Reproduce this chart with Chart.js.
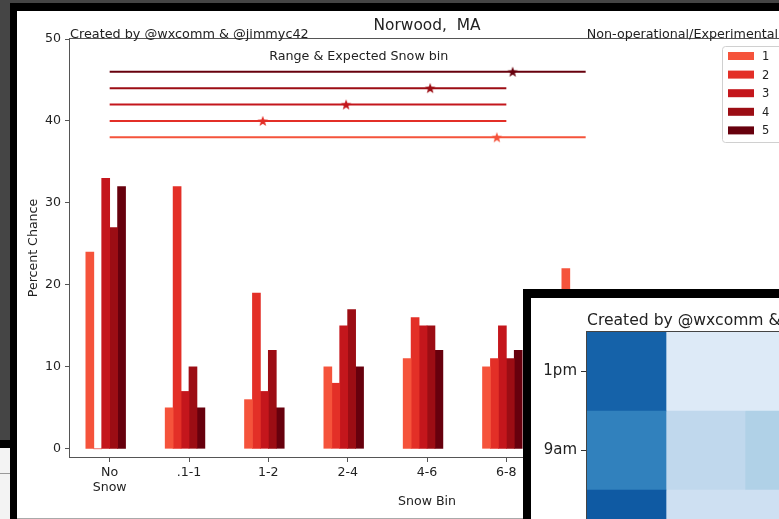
<!DOCTYPE html>
<html>
<head>
<meta charset="utf-8">
<script src="https://cdn.jsdelivr.net/npm/chart.js@4.4.1/dist/chart.umd.min.js"></script>
<style>
html, body { margin: 0; padding: 0; width: 779px; height: 519px; overflow: hidden; background: #454545; }
div, canvas { position: absolute; }
#frame { left: 10px; top: 3px; width: 820px; height: 530px; background: #000; }
#panel { left: 17px; top: 11px; width: 820px; height: 507px; background: #fff; border-bottom: 1px solid #aaa; }
#edgeBlack { left: 0; top: 440px; width: 10px; height: 8px; background: #000; }
#edgeLight { left: 0; top: 448px; width: 10px; height: 80px; background: #f3f3f3; }
#edgeLine { left: 0; top: 473px; width: 10px; height: 1px; background: #999; }
#mainChart { left: 17px; top: 11px; }
#insetFrame { left: 523px; top: 289px; width: 320px; height: 320px; background: #000; }
#insetPanel { left: 531px; top: 298px; width: 320px; height: 320px; background: #fff; }
#heatChart { left: 531px; top: 298px; }
</style>
</head>
<body>
<div id="frame"></div>
<div id="edgeBlack"></div>
<div id="edgeLight"></div>
<div id="edgeLine"></div>
<div id="panel"></div>
<canvas id="mainChart" width="820" height="507"></canvas>
<div id="insetFrame"></div>
<div id="insetPanel"></div>
<canvas id="heatChart" width="313" height="301"></canvas>
<script>
// Datos del gráfico principal
const snowBins = [['No', 'Snow'], '.1-1', '1-2', '2-4', '4-6', '6-8', '8-12', '12-18', '18+'];
const members = ['1', '2', '3', '4', '5'];
const chance1 = [24, 5, 6, 10, 11, 10, 22, null, null];
const chance2 = [0, 32, 19, 8, 16, 11, null, null, null];
const chance3 = [33, 7, 7, 15, 15, 15, null, null, null];
const chance4 = [27, 10, 12, 17, 15, 11, null, null, null];
const chance5 = [32, 5, 5, 10, 12, 12, null, null, null];
const yTicks = [0, 10, 20, 30, 40, 50];

// Rango y bin esperado (índice de bin)
const rangeLevel = [38, 40, 42, 44, 46];
const rangeLow = [0, 0, 0, 0, 0];
const rangeHigh = [6, 5, 5, 5, 6];
const expectedBin = [4.88, 1.93, 2.98, 4.04, 5.08];

// Datos del mapa de calor
const hmRows = ['1pm', '9am', '5am'];
const hmCol1 = [0.81, 0.69, 0.84];
const hmCol2 = [0.13, 0.27, 0.21];
const hmCol3 = [0.13, 0.32, 0.21];

const reds = ['#f5533b', '#e32f27', '#c4161c', '#9c0d14', '#67000d'];
const chances = [chance1, chance2, chance3, chance4, chance5];
// desplazamiento de cada barra dentro del grupo (ancho 0.1 como en matplotlib)
const barWidth = 0.1;
const barShift = k => (k - 2.5) * barWidth;

Chart.defaults.font.family = '"DejaVu Sans", sans-serif';
Chart.defaults.color = '#222';

function starImage(color) {
    const c = document.createElement('canvas');
    c.width = c.height = 12;
    const g = c.getContext('2d');
    g.beginPath();
    for (let i = 0; i < 10; i++) {
        const r = i % 2 ? 2.3 : 5.6;
        const a = -Math.PI / 2 + i * Math.PI / 5;
        g.lineTo(6 + r * Math.cos(a), 6.4 + r * Math.sin(a));
    }
    g.closePath();
    g.fillStyle = color;
    g.fill();
    return c;
}

const mainDecor = {
    id: 'mainDecor',
    afterDraw(chart) {
        const { ctx, chartArea: a, scales } = chart;
        ctx.save();
        // marco de los ejes
        ctx.strokeStyle = '#555';
        ctx.lineWidth = 1;
        ctx.strokeRect(a.left - 0.5, a.top - 0.5, a.right - a.left + 1, a.bottom - a.top + 1);

        ctx.fillStyle = '#222';
        ctx.textBaseline = 'alphabetic';
        ctx.font = '12.8px "DejaVu Sans"';
        ctx.textAlign = 'left';
        ctx.fillText('Created by @wxcomm & @jimmyc42', a.left, a.top - 1.5);
        ctx.textAlign = 'right';
        ctx.font = '12.7px "DejaVu Sans"';
        ctx.fillText('Non-operational/Experimental', a.right - 6, a.top - 1.5);
        ctx.textAlign = 'center';
        ctx.font = '15.4px "DejaVu Sans"';
        ctx.fillText('Norwood,  MA', (a.left + a.right) / 2, a.top - 9);

        ctx.font = '12.7px "DejaVu Sans"';
        ctx.textBaseline = 'middle';
        ctx.fillText('Range & Expected Snow bin', scales.x2.getPixelForValue(3.14), scales.y.getPixelForValue(47.9));

        // leyenda
        const bx = a.right - 62, by = a.top + 7;
        ctx.fillStyle = 'rgba(255,255,255,0.8)';
        ctx.strokeStyle = '#d0d0d0';
        ctx.beginPath();
        ctx.roundRect(bx + 0.5, by + 0.5, 70, 96, 3);
        ctx.fill();
        ctx.stroke();
        ctx.font = '11.5px "DejaVu Sans"';
        ctx.textAlign = 'left';
        members.forEach((m, i) => {
            const cy = by + 10 + i * 18.6;
            ctx.fillStyle = reds[i];
            ctx.fillRect(bx + 6, cy - 4, 26, 8);
            ctx.fillStyle = '#222';
            ctx.fillText(m, bx + 40, cy + 1);
        });
        ctx.restore();
    }
};

const starSets = members.map((m, i) => ({
    type: 'scatter',
    xAxisID: 'x2',
    data: [{ x: expectedBin[i], y: rangeLevel[i] }],
    pointStyle: starImage(reds[i]),
    pointRadius: 6,
    order: -2
}));

const rangeSets = members.map((m, i) => ({
    type: 'line',
    xAxisID: 'x2',
    data: [{ x: rangeLow[i], y: rangeLevel[i] }, { x: rangeHigh[i], y: rangeLevel[i] }],
    borderColor: reds[i],
    borderWidth: 2,
    pointRadius: 0,
    fill: false,
    order: -1
}));

const barSets = members.map((m, k) => ({
    type: 'bar',
    label: m,
    xAxisID: 'x2',
    grouped: false,
    data: chances[k].map((v, i) => ({ x: i + barShift(k), y: v })),
    backgroundColor: reds[k],
    borderWidth: 0,
    barThickness: 8
}));

new Chart(document.getElementById('mainChart'), {
    type: 'bar',
    data: { labels: snowBins, datasets: [...starSets, ...rangeSets, ...barSets] },
    options: {
        responsive: false,
        animation: false,
        events: [],
        devicePixelRatio: 1,
        layout: { padding: { top: 28, right: 53, left: 0, bottom: 0 } },
        plugins: { legend: { display: false }, tooltip: { enabled: false } },
        scales: {
            x: {
                type: 'category',
                offset: true,
                grid: { drawOnChartArea: false, offset: false, tickLength: 5, color: '#555' },
                border: { display: false },
                ticks: { padding: 3, font: { size: 12.6 }, maxRotation: 0, autoSkip: false },
                title: { display: true, text: 'Snow Bin', font: { size: 12.6 }, padding: { top: 9, bottom: 9 } },
                afterFit: s => { s.height = 61; }
            },
            x2: { type: 'linear', display: false, offset: false, min: -0.5, max: 8.5 },
            y: {
                min: -1,
                max: 50,
                afterBuildTicks: s => { s.ticks = yTicks.map(v => ({ value: v })); },
                grid: { drawOnChartArea: false, tickLength: 5, color: '#555' },
                border: { display: false },
                ticks: { padding: 4, font: { size: 12.6 } },
                title: { display: true, text: 'Percent Chance', font: { size: 12.6 }, padding: { top: 9, bottom: 9 } },
                afterFit: s => { s.width = 53; }
            }
        }
    },
    plugins: [mainDecor]
});

// Mapa de colores "Blues"
const bluesStops = ['#f7fbff', '#deebf7', '#c6dbef', '#9ecae1', '#6baed6', '#4292c6', '#2171b5', '#08519c', '#08306b'];
function blues(v) {
    const p = Math.max(0, Math.min(1, v)) * (bluesStops.length - 1);
    const i = Math.min(Math.floor(p), bluesStops.length - 2);
    const t = p - i;
    const c0 = bluesStops[i], c1 = bluesStops[i + 1];
    const ch = k => Math.round(parseInt(c0.substr(k, 2), 16) * (1 - t) + parseInt(c1.substr(k, 2), 16) * t);
    return `rgb(${ch(1)}, ${ch(3)}, ${ch(5)})`;
}

const heatDecor = {
    id: 'heatDecor',
    afterDraw(chart) {
        const { ctx, chartArea: a } = chart;
        ctx.save();
        ctx.strokeStyle = '#444';
        ctx.lineWidth = 1;
        ctx.strokeRect(a.left - 0.5, a.top - 0.5, a.right - a.left + 1, a.bottom - a.top + 1);
        ctx.fillStyle = '#222';
        ctx.font = '15.6px "DejaVu Sans"';
        ctx.textAlign = 'left';
        ctx.fillText('Created by @wxcomm & @jimmyc42', a.left, a.top - 7);
        ctx.restore();
    }
};

const hmCols = [hmCol1, hmCol2, hmCol3];
new Chart(document.getElementById('heatChart'), {
    type: 'bar',
    data: {
        labels: hmRows,
        datasets: hmCols.map(col => ({
            data: col.map(() => 1),
            backgroundColor: col.map(blues),
            borderWidth: 0,
            barPercentage: 1,
            categoryPercentage: 1
        }))
    },
    options: {
        indexAxis: 'y',
        responsive: false,
        animation: false,
        events: [],
        devicePixelRatio: 1,
        layout: { padding: { top: 34, right: 20, left: 0, bottom: 30 } },
        plugins: { legend: { display: false }, tooltip: { enabled: false } },
        scales: {
            x: { stacked: true, display: false, min: 0, max: hmCols.length },
            y: {
                stacked: true,
                offset: true,
                grid: { drawOnChartArea: false, offset: false, tickLength: 6, color: '#333' },
                border: { display: false },
                ticks: { padding: 4, font: { size: 15 } },
                afterFit: s => { s.width = 56; }
            }
        }
    },
    plugins: [heatDecor]
});
</script>
</body>
</html>
